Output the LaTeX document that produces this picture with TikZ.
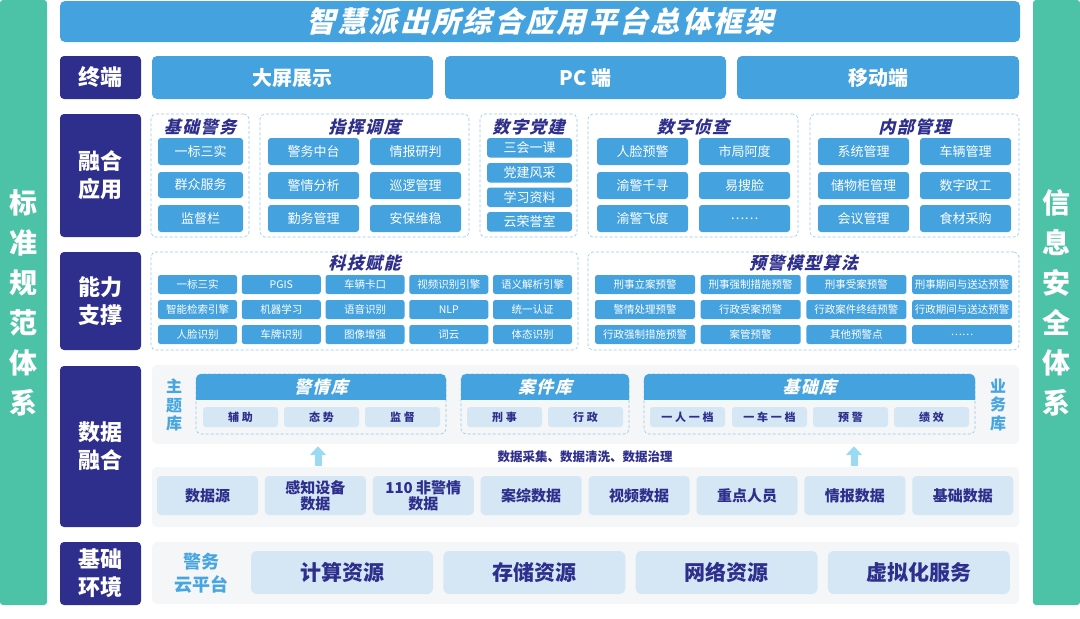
\documentclass[tikz,border=0pt]{standalone}
\usepackage{fontspec}
\setmainfont{Noto Sans CJK SC}
\newfontfamily\slfont{Noto Sans CJK SC}[FakeSlant=0.25,LetterSpace=8]
\newfontfamily\spfont{Noto Sans CJK SC}[LetterSpace=25]
\usetikzlibrary{arrows.meta,calc}

\definecolor{mainblue}{HTML}{44A2DF}
\definecolor{navy}{HTML}{2E2E8C}
\definecolor{sidegreen}{HTML}{4CC2A6}
\definecolor{paleblue}{HTML}{D5E7F4}
\definecolor{panelgray}{HTML}{F5F6F8}
\definecolor{dashblue}{HTML}{93C8EC}
\definecolor{textblue}{HTML}{47A5E0}
\definecolor{arrowcyan}{HTML}{9ADAF3}

% box from (x1,y1) to (x2,y2): name, x1, y1, x2, y2, style, text
\newcommand{\cellbox}[7]{%
  \node[#6,minimum width={(#4)-(#2)},minimum height={(#5)-(#3)}] (#1)
    at ({((#2)+(#4))/2},{((#3)+(#5))/2}) {#7};}

\begin{document}
\begin{tikzpicture}[x=1pt,y=-1pt,
  side/.style={fill=sidegreen,rounded corners=3pt,text=white,align=center,
    inner sep=0,font=\bfseries\fontsize{28}{40}\selectfont},
  layer/.style={fill=navy,rounded corners=4pt,text=white,align=center,
    inner sep=0,font=\bfseries\fontsize{22}{28}\selectfont},
  term/.style={fill=mainblue,rounded corners=5pt,text=white,inner sep=0,
    font=\bfseries\fontsize{20}{24}\selectfont},
  group/.style={draw=dashblue,densely dashed,line width=0.6pt,
    rounded corners=5pt,inner sep=0},
  gtitle/.style={text=navy,font=\slfont\bfseries\fontsize{17}{17}\selectfont},
  app/.style={fill=mainblue,rounded corners=3pt,text=white,inner sep=0,
    font=\fontsize{13}{13}\selectfont},
  tool/.style={app,rounded corners=2.5pt,font=\fontsize{10.5}{10.5}\selectfont},
  panel/.style={fill=panelgray,rounded corners=5pt,inner sep=0},
  libhead/.style={text=white,font=\slfont\bfseries\fontsize{17}{17}\selectfont},
  libitem/.style={fill=paleblue,rounded corners=3pt,text=navy,inner sep=0,
    font=\spfont\bfseries\fontsize{11}{11}\selectfont},
  src/.style={fill=paleblue,rounded corners=4pt,text=navy,align=center,
    inner sep=0,font=\bfseries\fontsize{15}{16}\selectfont},
  res/.style={src,rounded corners=6pt,font=\bfseries\fontsize{21}{21}\selectfont},
  vtext/.style={text=textblue,align=center,
    font=\bfseries\fontsize{16}{18.5}\selectfont},
  uparr/.style={-{Triangle[width=16pt,length=9pt]},line width=7pt,
    draw=arrowcyan,shorten >=2pt,shorten <=1pt}]

\useasboundingbox (0,0) rectangle (1080,619);

% side bars and title
\cellbox{std}{0}{0}{47}{605}{side}{标\\准\\规\\范\\体\\系}
\cellbox{sec}{1033}{0}{1080}{605}{side}{信\\息\\安\\全\\体\\系}
\cellbox{title}{60}{1}{1020}{42}{term}{}
\node[text=white,font=\slfont\bfseries\fontsize{29}{29}\selectfont] (titletext)
  at (title.center) {智慧派出所综合应用平台总体框架};

% layer labels
\cellbox{lterm}{60}{56}{141}{99}{layer}{终端}
\cellbox{lapp}{60}{114}{141}{237}{layer}{融合\\应用}
\cellbox{lcap}{60}{252}{141}{350}{layer}{能力\\支撑}
\cellbox{ldata}{60}{366}{141}{527}{layer}{数据\\融合}
\cellbox{lbase}{60}{542}{141}{605}{layer}{基础\\环境}

% terminals
\cellbox{screen}{152}{56}{433}{99}{term}{大屏展示}
\cellbox{pc}{445}{56}{726}{99}{term}{PC 端}
\cellbox{mobile}{737}{56}{1019}{99}{term}{移动端}

% fusion applications
\cellbox{g1}{151}{114}{249}{237}{group}{}
\node[gtitle] (g1t) at (200,127) {基础警务};
\foreach \t/\ya/\yb [count=\i] in {一标三实/138/165,群众服务/172/198,监督栏/205/232}
  {\cellbox{jc\i}{158}{\ya}{243}{\yb}{app}{\t}}

\cellbox{g2}{260}{114}{469}{237}{group}{}
\node[gtitle] (g2t) at (364.5,127) {指挥调度};
\foreach \t/\xa/\ya [count=\i] in {警务中台/268/138,情报研判/370/138,
    警情分析/268/172,巡逻管理/370/172,勤务管理/268/205,安保维稳/370/205}
  {\cellbox{zh\i}{\xa}{\ya}{\xa+91}{\ya+27}{app}{\t}}

\cellbox{g3}{480}{114}{577}{237}{group}{}
\node[gtitle] (g3t) at (528.5,127) {数字党建};
\foreach \t/\ya [count=\i] in {三会一课/138,党建风采/163,学习资料/187.5,云荣誉室/212}
  {\cellbox{dj\i}{487}{\ya}{572}{\ya+19.5}{app}{\t}}

\cellbox{g4}{588}{114}{798}{237}{group}{}
\node[gtitle] (g4t) at (693,127) {数字侦查};
\foreach \t/\xa/\ya [count=\i] in {人脸预警/597/138,市局阿度/699/138,
    渝警千寻/597/172,易搜脸/699/172,渝警飞度/597/205,……/699/205}
  {\cellbox{zc\i}{\xa}{\ya}{\xa+91}{\ya+27}{app}{\t}}

\cellbox{g5}{810}{114}{1019}{237}{group}{}
\node[gtitle] (g5t) at (914.5,127) {内部管理};
\foreach \t/\xa/\ya [count=\i] in {系统管理/818/138,车辆管理/920/138,
    储物柜管理/818/172,数字政工/920/172,会议管理/818/205,食材采购/920/205}
  {\cellbox{nb\i}{\xa}{\ya}{\xa+91}{\ya+27}{app}{\t}}

% capability support
\cellbox{t1}{151}{252}{578}{350}{group}{}
\node[gtitle] (t1t) at (364.5,263) {科技赋能};
\foreach \t [count=\i from 0] in {一标三实,PGIS,车辆卡口,视频识别引擎,语义解析引擎,
    智能检索引擎,机器学习,语音识别,NLP,统一认证,
    人脸识别,车牌识别,图像增强,词云,体态识别}{
  \pgfmathtruncatemacro\col{mod(\i,5)}
  \pgfmathtruncatemacro\row{\i/5}
  \cellbox{kj\i}{158+83.75*\col}{275+25*\row}{237+83.75*\col}{294+25*\row}{tool}{\t}}

\cellbox{t2}{588}{252}{1019}{350}{group}{}
\node[gtitle] (t2t) at (803.5,263) {预警模型算法};
\foreach \t [count=\i from 0] in {刑事立案预警,刑事强制措施预警,刑事受案预警,刑事期间与送达预警,
    警情处理预警,行政受案预警,行政案件终结预警,行政期间与送达预警,
    行政强制措施预警,案管预警,其他预警点,……}{
  \pgfmathtruncatemacro\col{mod(\i,4)}
  \pgfmathtruncatemacro\row{\i/4}
  \cellbox{yj\i}{595+105.7*\col}{275+25*\row}{695+105.7*\col}{294+25*\row}{tool}{\t}}

% data fusion
\cellbox{topic}{152}{365}{1019}{444}{panel}{}
\node[vtext] (ztk) at (174,405) {主\\题\\库};
\node[vtext] (ywk) at (998,405) {业\\务\\库};
\foreach \n/\a/\b/\t in {lib1/196/446/警情库,lib2/461/629/案件库,lib3/644/975/基础库}{
  \cellbox{\n}{\a}{374}{\b}{434}{group}{}
  \begin{scope}
    \clip (\a,374) rectangle (\b,399);
    \fill[mainblue,rounded corners=5pt] (\a,374) rectangle (\b,410);
  \end{scope}
  \node[libhead] (\n head) at ({(\a+\b)/2},386.5) {\t};
}
\foreach \t/\xa [count=\i] in {辅助/203,态势/284,监督/365,刑事/467,行政/548,
    一人一档/650,一车一档/732,预警/813,绩效/894}
  {\cellbox{item\i}{\xa}{407}{\xa+75}{427}{libitem}{\t}}

\node[text=navy,font=\bfseries\fontsize{12.5}{12.5}\selectfont] (flow)
  at (585,457) {数据采集、数据清洗、数据治理};

\cellbox{low}{152}{467}{1019}{527}{panel}{}
\foreach \t [count=\i from 0] in {数据源,{感知设备\\数据},{110 非警情\\数据},案综数据,
    视频数据,重点人员,情报数据,基础数据}
  {\cellbox{src\i}{157+107.9*\i}{476}{258+107.9*\i}{515}{src}{\t}}

\coordinate (a1) at (318,0);
\coordinate (a2) at (854,0);
\draw[uparr] (a1 |- low.north) -- (a1 |- topic.south);
\draw[uparr] (a2 |- low.north) -- (a2 |- topic.south);

% base environment
\cellbox{base}{152}{542}{1019}{604}{panel}{}
\node[text=textblue,align=center,font=\bfseries\fontsize{18}{23}\selectfont] (cloud)
  at (201,573) {警务\\云平台};
\foreach \t [count=\i from 0] in {计算资源,存储资源,网络资源,虚拟化服务}
  {\cellbox{res\i}{251+192.3*\i}{551}{433+192.3*\i}{594}{res}{\t}}

\end{tikzpicture}
\end{document}
